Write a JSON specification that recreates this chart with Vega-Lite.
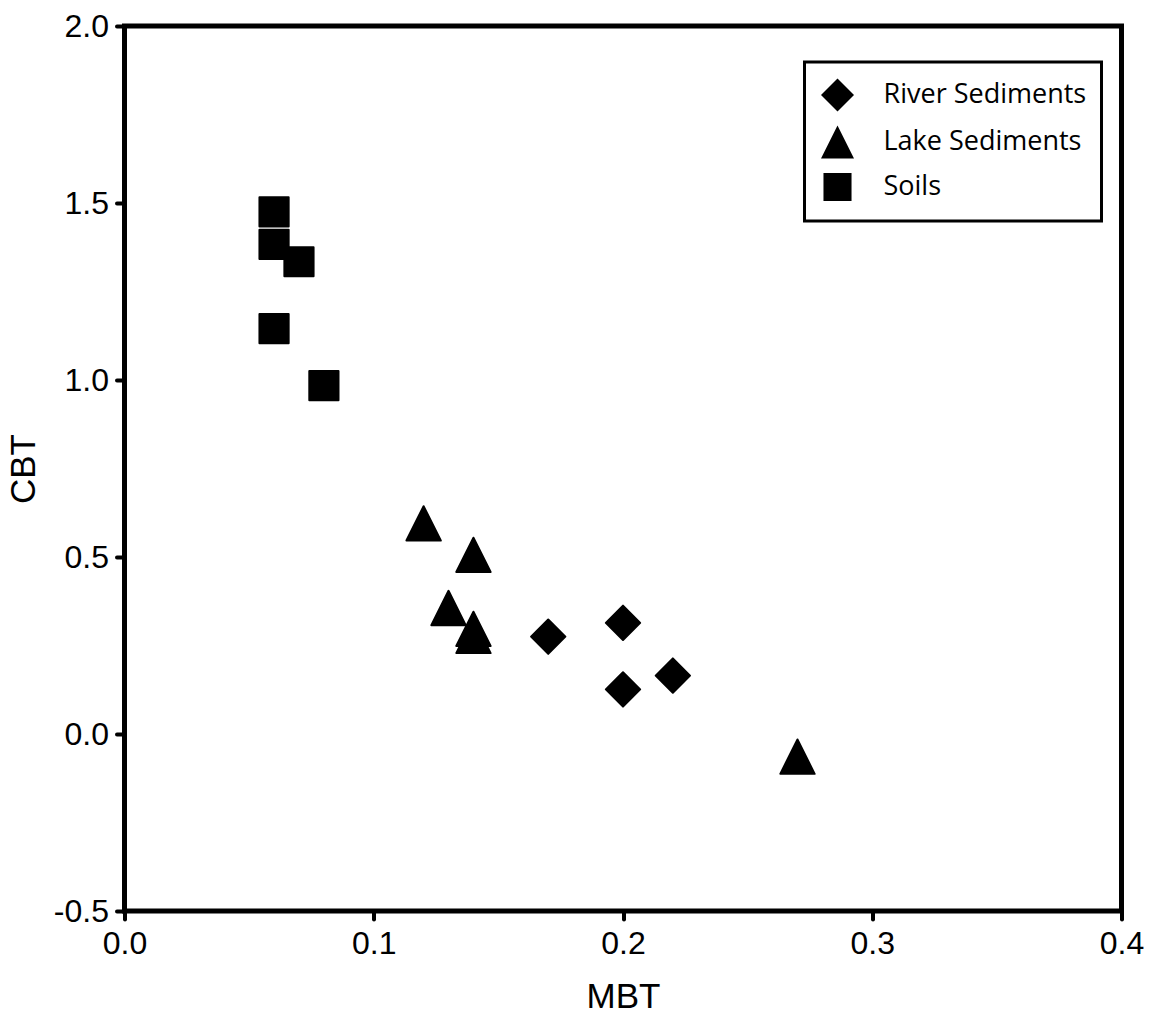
{
  "$schema": "https://vega.github.io/schema/vega-lite/v6.json",
  "autosize": "none",
  "width": 997,
  "height": 885,
  "padding": {"left": 124.5, "top": 26, "right": 38.5, "bottom": 108},
  "background": "white",
  "data": {
    "values": [
      {"MBT": 0.170, "CBT": 0.275, "type": "River Sediments"},
      {"MBT": 0.200, "CBT": 0.314, "type": "River Sediments"},
      {"MBT": 0.200, "CBT": 0.126, "type": "River Sediments"},
      {"MBT": 0.220, "CBT": 0.165, "type": "River Sediments"},
      {"MBT": 0.120, "CBT": 0.595, "type": "Lake Sediments"},
      {"MBT": 0.140, "CBT": 0.506, "type": "Lake Sediments"},
      {"MBT": 0.130, "CBT": 0.356, "type": "Lake Sediments"},
      {"MBT": 0.140, "CBT": 0.297, "type": "Lake Sediments"},
      {"MBT": 0.140, "CBT": 0.277, "type": "Lake Sediments"},
      {"MBT": 0.270, "CBT": -0.064, "type": "Lake Sediments"},
      {"MBT": 0.060, "CBT": 1.475, "type": "Soils"},
      {"MBT": 0.060, "CBT": 1.383, "type": "Soils"},
      {"MBT": 0.070, "CBT": 1.334, "type": "Soils"},
      {"MBT": 0.060, "CBT": 1.145, "type": "Soils"},
      {"MBT": 0.080, "CBT": 0.984, "type": "Soils"}
    ]
  },
  "mark": {
    "type": "point",
    "filled": true,
    "color": "black",
    "stroke": "black",
    "strokeWidth": 2,
    "strokeJoin": "round",
    "opacity": 1,
    "size": 1180
  },
  "encoding": {
    "x": {
      "field": "MBT",
      "type": "quantitative",
      "title": "MBT",
      "scale": {"domain": [0, 0.4], "nice": false, "zero": false},
      "axis": {"values": [0, 0.1, 0.2, 0.3, 0.4], "format": ".1f", "labelPadding": 9, "titlePadding": 20, "labelFlush": false}
    },
    "y": {
      "field": "CBT",
      "type": "quantitative",
      "title": "CBT",
      "scale": {"domain": [-0.5, 2], "nice": false, "zero": false},
      "axis": {"values": [-0.5, 0, 0.5, 1, 1.5, 2], "labelExpr": "replace(format(datum.value, '.1f'), '\u2212', '-')", "labelPadding": 8, "titlePadding": 12, "labelFlush": false}
    },
    "shape": {
      "field": "type",
      "type": "nominal",
      "scale": {
        "domain": ["River Sediments", "Lake Sediments", "Soils"],
        "range": ["M-1,0L0,-1L1,0L0,1Z", "M0,-1L1,1L-1,1Z", "M-0.85,-0.85L0.85,-0.85L0.85,0.85L-0.85,0.85Z"]
      },
      "legend": {
        "title": null,
        "orient": "none",
        "legendX": 680,
        "legendY": 36,
        "padding": 15,
        "symbolSize": 1090,
        "symbolFillColor": "black",
        "symbolStrokeColor": "black",
        "symbolStrokeWidth": 2,
        "symbolOpacity": 1,
        "labelFont": "Open Sans",
        "labelFontSize": 27,
        "labelColor": "black",
        "labelLimit": 0,
        "labelOffset": 28,
        "labelBaseline": "middle",
        "rowPadding": 5
      }
    }
  },
  "config": {
    "view": {"stroke": "black", "strokeWidth": 5},
    "legend": {"strokeColor": "black", "strokeWidth": 3},
    "axis": {
      "grid": false,
      "domain": false,
      "ticks": true,
      "tickColor": "black",
      "tickWidth": 4,
      "tickSize": 8,
      "tickCap": "round",
      "labelFont": "Liberation Sans",
      "labelFontSize": 32,
      "labelColor": "black",
      "titleFont": "Liberation Sans",
      "titleFontSize": 35,
      "titleFontWeight": "normal",
      "titleColor": "black"
    }
  }
}
